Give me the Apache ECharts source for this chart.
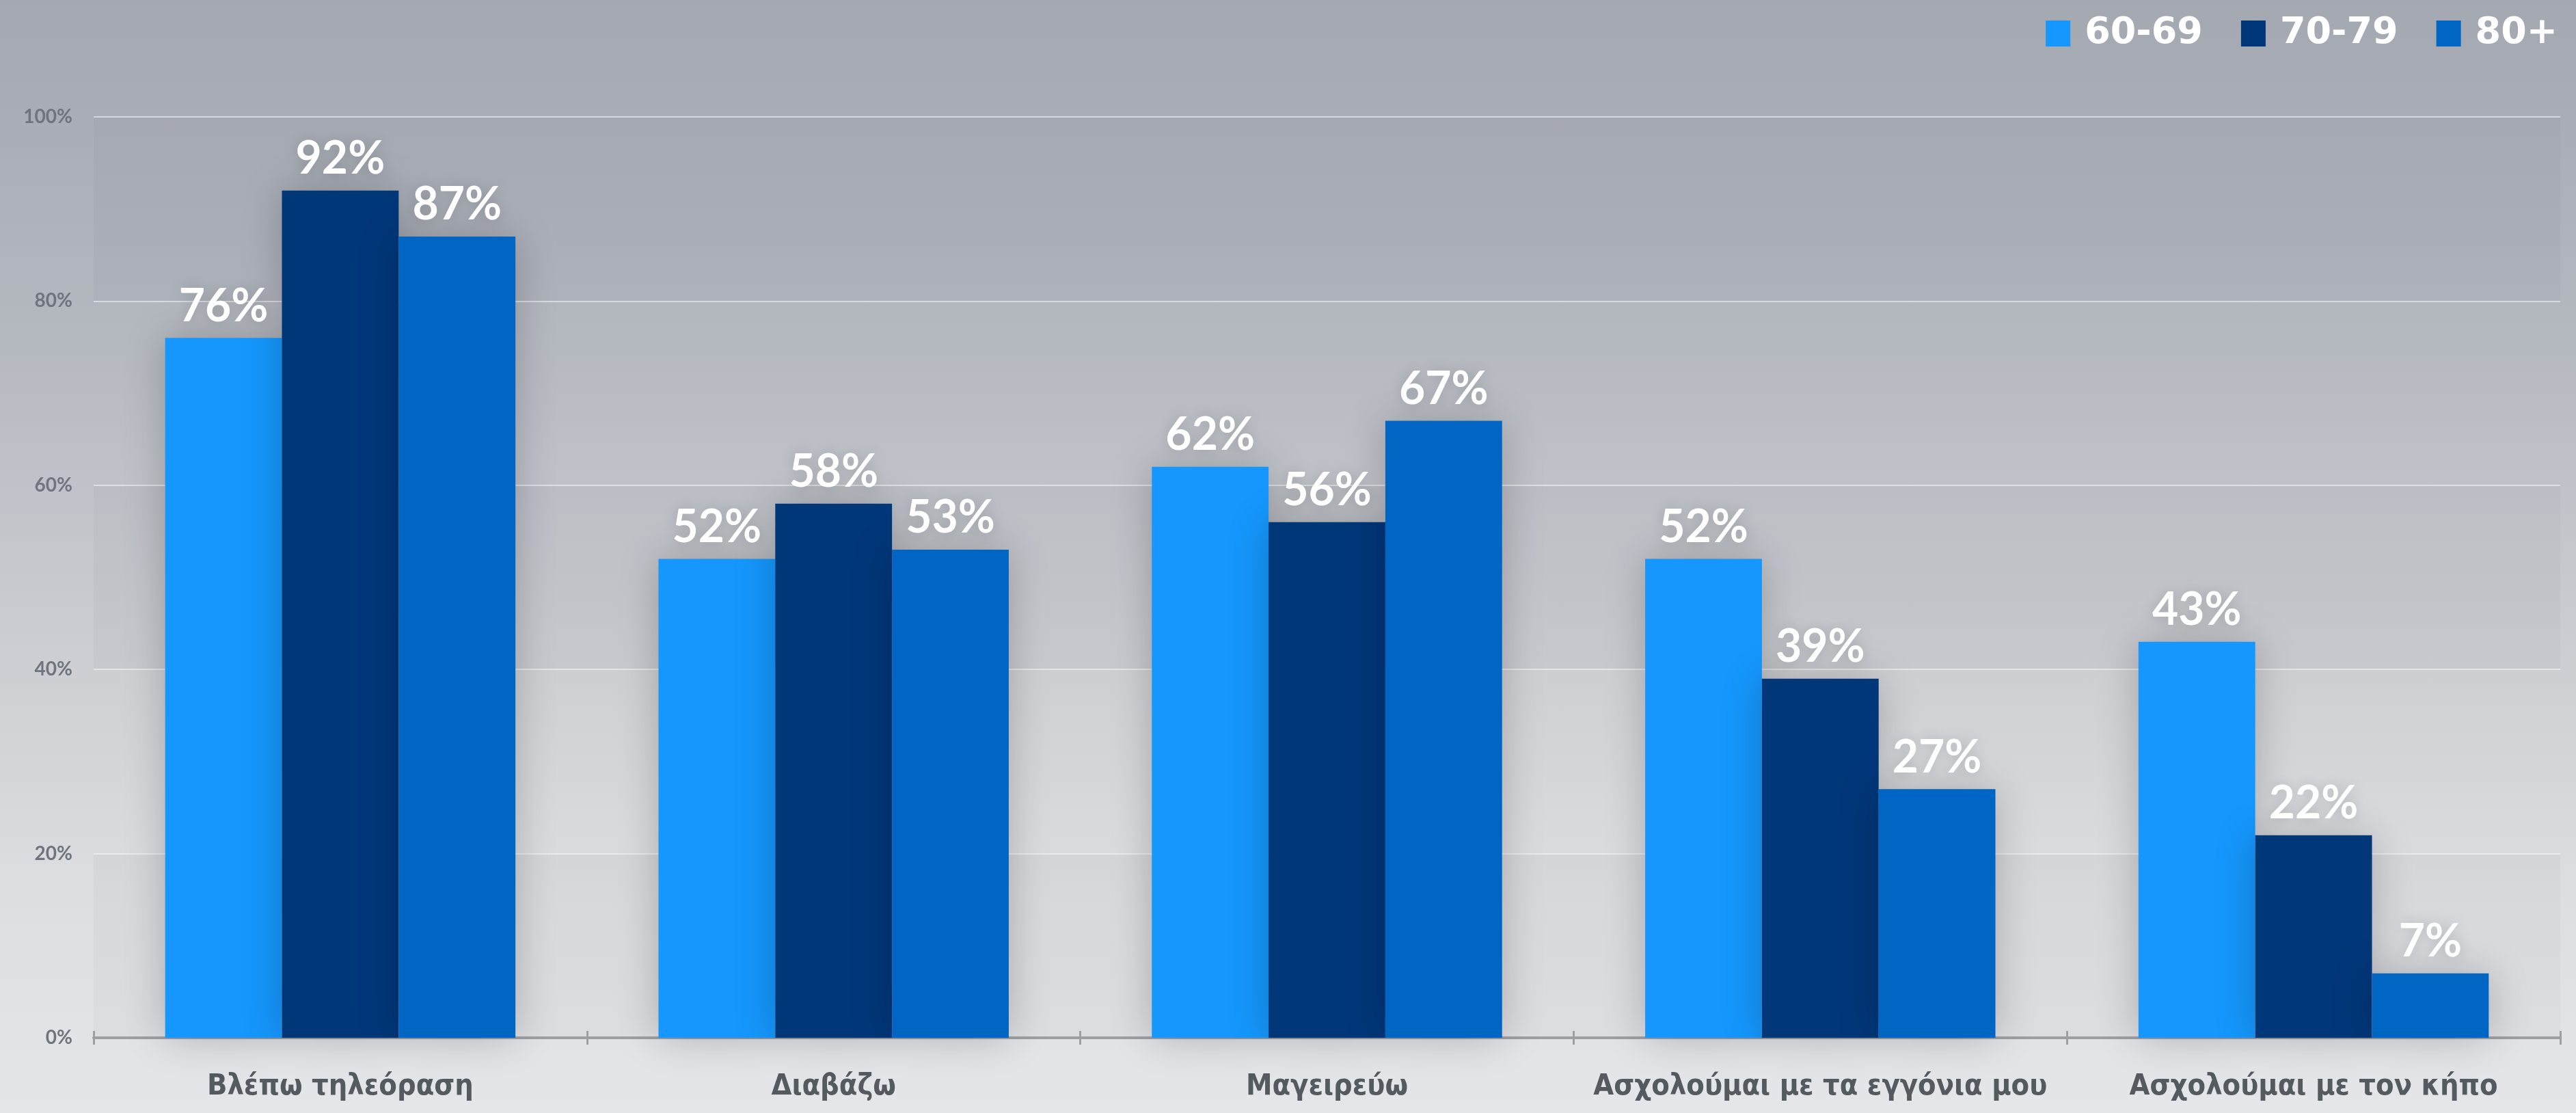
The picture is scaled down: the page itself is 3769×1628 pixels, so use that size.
<!DOCTYPE html>
<html>
<head>
<meta charset="utf-8">
<script src="https://cdn.jsdelivr.net/npm/echarts@6/dist/echarts.min.js"></script>
<style>
html,body{margin:0;padding:0;width:3769px;height:1628px;overflow:hidden;
background:linear-gradient(to bottom,#a3a8b1 0%,#b4b8bf 30%,#c9cbd0 55%,#dcdee1 80%,#e5e6e9 100%);}
#chart{width:3769px;height:1628px;}
</style>
</head>
<body>
<div id="chart"></div>
<script>
const categories = ['Βλέπω τηλεόραση','Διαβάζω','Μαγειρεύω','Ασχολούμαι με τα εγγόνια μου','Ασχολούμαι με τον κήπο'];
const seriesNames = ['60-69','70-79','80+'];
const values6069 = [76, 52, 62, 52, 43];
const values7079 = [92, 58, 56, 39, 22];
const values80 = [87, 53, 67, 27, 7];
const seriesColors = ['#1597fd','#003779','#0065c3'];
const yTicks = [0, 20, 40, 60, 80, 100];

const allValues = [values6069, values7079, values80];

const chart = echarts.init(document.getElementById('chart'), null, {renderer:'canvas'});
const option = {
  backgroundColor: 'transparent',
  animation: false,
  legend: {
    data: seriesNames,
    right: 22,
    top: 17,
    itemWidth: 36,
    itemHeight: 38,
    itemGap: 56,
    icon: 'rect',
    textStyle: {color:'#ffffff', fontFamily:'DejaVu Sans', fontWeight:'bold', fontSize:54, padding:[0,0,0,16]}
  },
  grid: {left:137, right:23, top:171, bottom:110, containLabel:false},
  xAxis: [{
    type:'category',
    data: categories,
    axisLine:{lineStyle:{color:'#9d9fa3', width:4}},
    axisTick:{show:true, length:10, lineStyle:{color:'#9d9fa3', width:3}},
    axisLabel:{color:'#555a60', fontFamily:'DejaVu Sans Condensed', fontWeight:'bold', fontSize:43, margin:50, interval:0}
  },{
    type:'category',
    data: categories,
    position:'bottom',
    axisLine:{show:false},
    axisTick:{show:true, inside:true, length:10, lineStyle:{color:'#9d9fa3', width:3}},
    axisLabel:{show:false}
  }],
  yAxis: {
    type:'value',
    min: yTicks[0], max: yTicks[yTicks.length-1], interval: 20,
    axisLine:{show:false}, axisTick:{show:false},
    axisLabel:{color:'#6f747d', fontFamily:'Lato', fontWeight:'bold', fontSize:28, margin:31, formatter: v => v + '%'},
    splitLine:{lineStyle:{color:'rgba(255,255,255,0.5)', width:2}},
    splitArea:{show:true, areaStyle:{color:['rgba(60,65,80,0.035)','rgba(255,255,255,0)']}}
  },
  series: seriesNames.map((name, i) => ({
    name: name,
    type: 'bar',
    data: allValues[i],
    barGap: '0%',
    barCategoryGap: '29%',
    itemStyle: {color: seriesColors[i], shadowBlur: 60, shadowColor: 'rgba(0,0,0,0.22)'},
    label: {
      show: true, position: 'top', distance: 13,
      color: '#ffffff', fontFamily: 'Lato', fontWeight: 'bold', fontSize: 66,
      textShadowColor: 'rgba(0,0,0,0.18)', textShadowBlur: 20,
      formatter: p => p.value + '%'
    }
  }))
};
chart.setOption(option);
</script>
</body>
</html>
